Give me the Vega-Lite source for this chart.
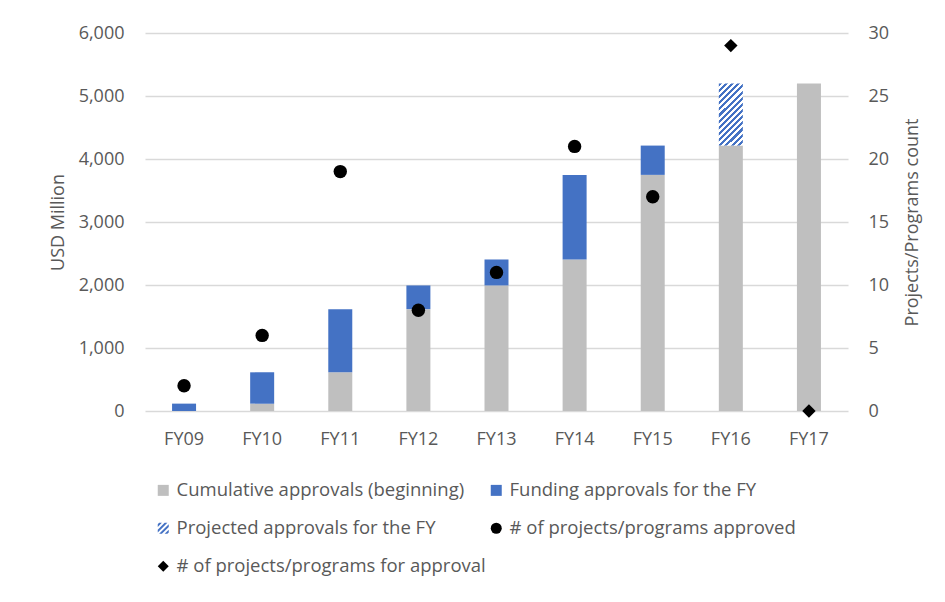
{
  "$schema": "https://vega.github.io/schema/vega-lite/v6.json",
  "width": 703,
  "height": 378,
  "autosize": "none",
  "padding": {"left": 145, "top": 33, "right": 97, "bottom": 191},
  "background": "#FFFFFF",
  "config": {
    "view": {"stroke": null},
    "font": "Open Sans",
    "axis": {
      "labelFont": "Open Sans",
      "labelFontSize": 18,
      "labelColor": "#595959",
      "titleFont": "Open Sans",
      "titleFontSize": 18,
      "titleFontWeight": "normal",
      "titleColor": "#595959",
      "ticks": false,
      "domain": false
    },
    "legend": {
      "labelFont": "Open Sans",
      "labelFontSize": 18.5,
      "labelColor": "#595959",
      "orient": "none",
      "legendX": 9,
      "legendY": 448,
      "direction": "horizontal",
      "columns": 2,
      "columnPadding": 1,
      "rowPadding": 19,
      "padding": 0,
      "symbolSize": 121,
      "symbolStrokeWidth": 0,
      "labelOffset": 4,
      "labelLimit": 400
    }
  },
  "data": {
    "values": [
      {"fy": "FY09", "series": "Cumulative approvals (beginning)", "kind": "bar", "ord": 1, "value": 0},
      {"fy": "FY09", "series": "Funding approvals for the FY", "kind": "bar", "ord": 2, "value": 117},
      {"fy": "FY10", "series": "Cumulative approvals (beginning)", "kind": "bar", "ord": 1, "value": 117},
      {"fy": "FY10", "series": "Funding approvals for the FY", "kind": "bar", "ord": 2, "value": 497},
      {"fy": "FY11", "series": "Cumulative approvals (beginning)", "kind": "bar", "ord": 1, "value": 614},
      {"fy": "FY11", "series": "Funding approvals for the FY", "kind": "bar", "ord": 2, "value": 1003},
      {"fy": "FY12", "series": "Cumulative approvals (beginning)", "kind": "bar", "ord": 1, "value": 1617},
      {"fy": "FY12", "series": "Funding approvals for the FY", "kind": "bar", "ord": 2, "value": 376},
      {"fy": "FY13", "series": "Cumulative approvals (beginning)", "kind": "bar", "ord": 1, "value": 1993},
      {"fy": "FY13", "series": "Funding approvals for the FY", "kind": "bar", "ord": 2, "value": 412},
      {"fy": "FY14", "series": "Cumulative approvals (beginning)", "kind": "bar", "ord": 1, "value": 2405},
      {"fy": "FY14", "series": "Funding approvals for the FY", "kind": "bar", "ord": 2, "value": 1343},
      {"fy": "FY15", "series": "Cumulative approvals (beginning)", "kind": "bar", "ord": 1, "value": 3748},
      {"fy": "FY15", "series": "Funding approvals for the FY", "kind": "bar", "ord": 2, "value": 465},
      {"fy": "FY16", "series": "Cumulative approvals (beginning)", "kind": "bar", "ord": 1, "value": 4213},
      {"fy": "FY16", "series": "Projected approvals for the FY", "kind": "bar", "ord": 2, "value": 987},
      {"fy": "FY17", "series": "Cumulative approvals (beginning)", "kind": "bar", "ord": 1, "value": 5200},
      {"fy": "FY09", "series": "# of projects/programs approved", "kind": "count", "count": 2},
      {"fy": "FY10", "series": "# of projects/programs approved", "kind": "count", "count": 6},
      {"fy": "FY11", "series": "# of projects/programs approved", "kind": "count", "count": 19},
      {"fy": "FY12", "series": "# of projects/programs approved", "kind": "count", "count": 8},
      {"fy": "FY13", "series": "# of projects/programs approved", "kind": "count", "count": 11},
      {"fy": "FY14", "series": "# of projects/programs approved", "kind": "count", "count": 21},
      {"fy": "FY15", "series": "# of projects/programs approved", "kind": "count", "count": 17},
      {"fy": "FY16", "series": "# of projects/programs for approval", "kind": "count", "count": 29},
      {"fy": "FY17", "series": "# of projects/programs for approval", "kind": "count", "count": 0}
    ]
  },
  "encoding": {
    "x": {
      "field": "fy",
      "type": "nominal",
      "sort": null,
      "title": null,
      "scale": {"paddingInner": 0, "paddingOuter": 0},
      "axis": {"labelAngle": 0, "labelPadding": 19}
    }
  },
  "layer": [
    {
      "transform": [{"filter": "datum.kind === 'bar'"}],
      "mark": {"type": "bar", "width": 24},
      "encoding": {
        "y": {
          "field": "value",
          "type": "quantitative",
          "aggregate": "sum",
          "stack": "zero",
          "title": "USD Million",
          "scale": {"domain": [0, 6000]},
          "axis": {
            "values": [0, 1000, 2000, 3000, 4000, 5000, 6000],
            "format": ",.0f",
            "grid": true,
            "gridColor": "#D9D9D9",
            "gridWidth": 1.3,
            "labelPadding": 21,
            "titleX": -78,
            "titleY": 189,
            "titleAngle": 270,
            "titleBaseline": "bottom",
            "titleAlign": "center"
          }
        },
        "order": {"field": "ord", "type": "quantitative"},
        "color": {
          "field": "series",
          "type": "nominal",
          "title": null,
          "condition": {
            "test": "datum.series === 'Projected approvals for the FY'",
            "value": {"gradient": "linear", "x1": 0, "y1": 0, "x2": 0.465, "y2": 1.206, "stops": [
                {"offset": 0, "color": "#4472C4"}, {"offset": 0.0357, "color": "#4472C4"}, {"offset": 0.0357, "color": "#FFFFFF"}, {"offset": 0.0714, "color": "#FFFFFF"},
                {"offset": 0.0714, "color": "#4472C4"}, {"offset": 0.1071, "color": "#4472C4"}, {"offset": 0.1071, "color": "#FFFFFF"}, {"offset": 0.1429, "color": "#FFFFFF"},
                {"offset": 0.1429, "color": "#4472C4"}, {"offset": 0.1786, "color": "#4472C4"}, {"offset": 0.1786, "color": "#FFFFFF"}, {"offset": 0.2143, "color": "#FFFFFF"},
                {"offset": 0.2143, "color": "#4472C4"}, {"offset": 0.25, "color": "#4472C4"}, {"offset": 0.25, "color": "#FFFFFF"}, {"offset": 0.2857, "color": "#FFFFFF"},
                {"offset": 0.2857, "color": "#4472C4"}, {"offset": 0.3214, "color": "#4472C4"}, {"offset": 0.3214, "color": "#FFFFFF"}, {"offset": 0.3571, "color": "#FFFFFF"},
                {"offset": 0.3571, "color": "#4472C4"}, {"offset": 0.3929, "color": "#4472C4"}, {"offset": 0.3929, "color": "#FFFFFF"}, {"offset": 0.4286, "color": "#FFFFFF"},
                {"offset": 0.4286, "color": "#4472C4"}, {"offset": 0.4643, "color": "#4472C4"}, {"offset": 0.4643, "color": "#FFFFFF"}, {"offset": 0.5, "color": "#FFFFFF"},
                {"offset": 0.5, "color": "#4472C4"}, {"offset": 0.5357, "color": "#4472C4"}, {"offset": 0.5357, "color": "#FFFFFF"}, {"offset": 0.5714, "color": "#FFFFFF"},
                {"offset": 0.5714, "color": "#4472C4"}, {"offset": 0.6071, "color": "#4472C4"}, {"offset": 0.6071, "color": "#FFFFFF"}, {"offset": 0.6429, "color": "#FFFFFF"},
                {"offset": 0.6429, "color": "#4472C4"}, {"offset": 0.6786, "color": "#4472C4"}, {"offset": 0.6786, "color": "#FFFFFF"}, {"offset": 0.7143, "color": "#FFFFFF"},
                {"offset": 0.7143, "color": "#4472C4"}, {"offset": 0.75, "color": "#4472C4"}, {"offset": 0.75, "color": "#FFFFFF"}, {"offset": 0.7857, "color": "#FFFFFF"},
                {"offset": 0.7857, "color": "#4472C4"}, {"offset": 0.8214, "color": "#4472C4"}, {"offset": 0.8214, "color": "#FFFFFF"}, {"offset": 0.8571, "color": "#FFFFFF"},
                {"offset": 0.8571, "color": "#4472C4"}, {"offset": 0.8929, "color": "#4472C4"}, {"offset": 0.8929, "color": "#FFFFFF"}, {"offset": 0.9286, "color": "#FFFFFF"},
                {"offset": 0.9286, "color": "#4472C4"}, {"offset": 0.9643, "color": "#4472C4"}, {"offset": 0.9643, "color": "#FFFFFF"}, {"offset": 1, "color": "#FFFFFF"}
              ]}
          },
          "scale": {
            "domain": ["Cumulative approvals (beginning)", "Funding approvals for the FY", "Projected approvals for the FY", "# of projects/programs approved", "# of projects/programs for approval"],
            "range": ["#BFBFBF", "#4472C4", "#4472C4", "#000000", "#000000"]
          }
        }
      }
    },
    {
      "transform": [{"filter": "datum.kind === 'count'"}],
      "mark": {"type": "point", "filled": true, "opacity": 1, "size": 180},
      "encoding": {
        "y": {
          "field": "count",
          "type": "quantitative",
          "title": "Projects/Programs count",
          "scale": {"domain": [0, 30]},
          "axis": {
            "orient": "right",
            "values": [0, 5, 10, 15, 20, 25, 30],
            "grid": false,
            "labelPadding": 20,
            "titlePadding": 15,
            "titleAngle": 270,
            "titleBaseline": "top"
          }
        },
        "color": {"field": "series", "type": "nominal", "title": null},
        "shape": {
          "field": "series",
          "type": "nominal",
          "title": null,
          "scale": {
            "domain": ["Cumulative approvals (beginning)", "Funding approvals for the FY", "Projected approvals for the FY", "# of projects/programs approved", "# of projects/programs for approval"],
            "range": ["square", "square", "M-1,-0.75L-0.75,-1L-0.25,-1L-1,-0.25ZM-1,0.25L0.25,-1L0.75,-1L-1,0.75ZM-0.75,1L1,-0.75L1,-0.25L-0.25,1ZM0.25,1L1,0.25L1,0.75L0.75,1Z", "circle", "diamond"]
          }
        }
      }
    }
  ],
  "resolve": {"scale": {"y": "independent"}}
}
